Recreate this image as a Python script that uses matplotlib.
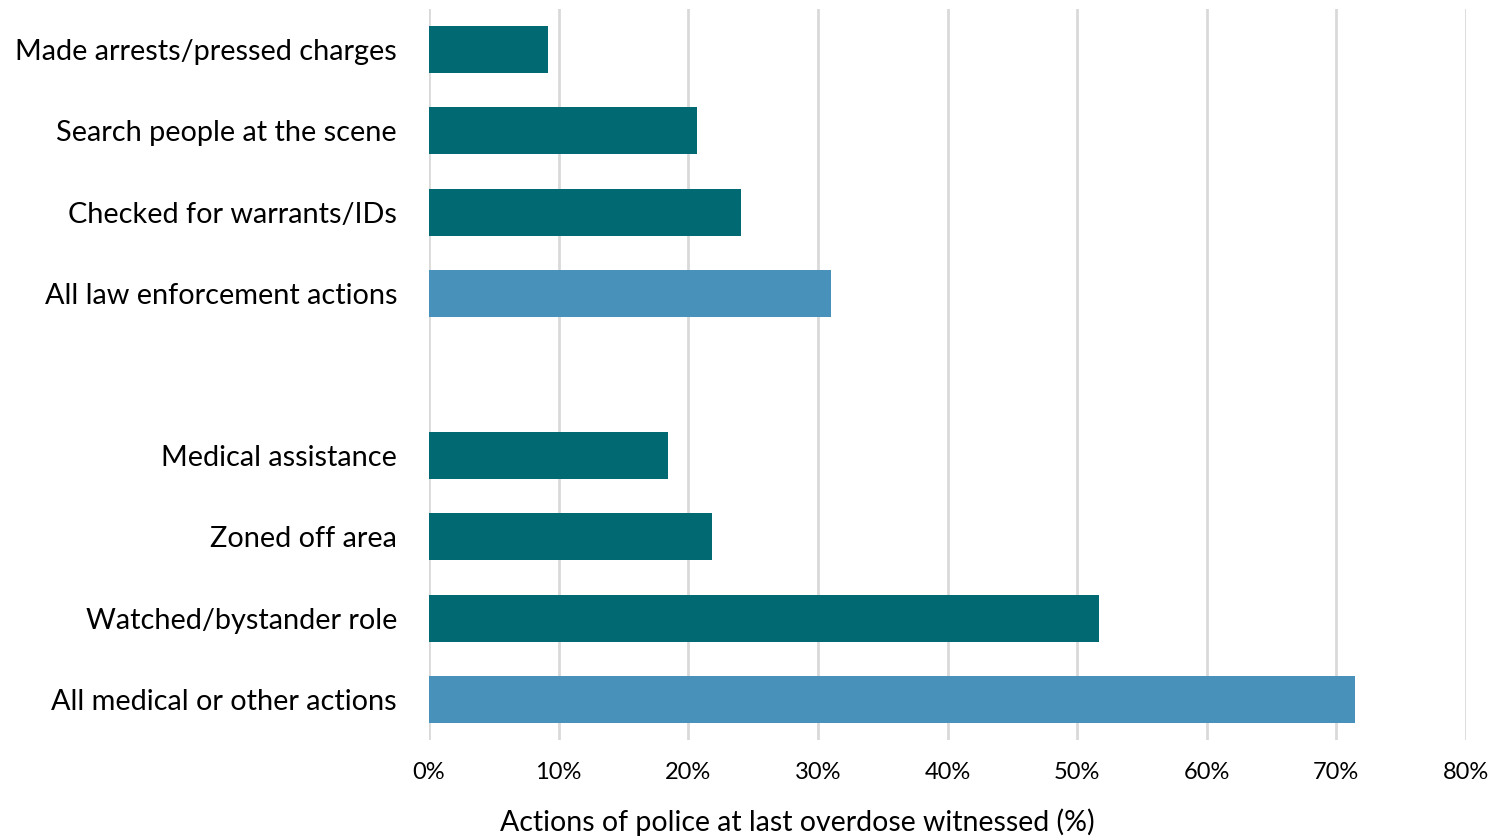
import matplotlib
matplotlib.use("Agg")
import matplotlib.pyplot as plt
from matplotlib.ticker import FixedLocator

# Police actions at the last overdose witnessed (percent of respondents)
categories = [
    "Made arrests/pressed charges",
    "Search people at the scene",
    "Checked for warrants/IDs",
    "All law enforcement actions",
    "",
    "Medical assistance",
    "Zoned off area",
    "Watched/bystander role",
    "All medical or other actions",
]
values = [9.2, 20.7, 24.1, 31.0, None, 18.4, 21.8, 51.7, 71.4]
is_total = [False, False, False, True, False, False, False, False, True]
tick_values = [0, 10, 20, 30, 40, 50, 60, 70, 80]
tick_labels = [f"{v}%" for v in tick_values]

detail_color = "#006972"
total_color = "#4891BA"
grid_color = "#d9d9d9"

plt.rcParams["font.family"] = ["Lato", "DejaVu Sans"]

W, H = 1493, 839
fig = plt.figure(figsize=(W / 100, H / 100), dpi=100)
ax = fig.add_axes([429 / W, 1 - 740 / H, (1466 - 429) / W, (740 - 9) / H])

ypos = list(range(len(categories)))
for y, v, tot in zip(ypos, values, is_total):
    if v is None:
        continue
    ax.barh(y, v, height=0.58, color=total_color if tot else detail_color, zorder=3)

ax.set_xlim(0, 80)
ax.set_ylim(len(categories) - 0.5, -0.5)
ax.xaxis.set_major_locator(FixedLocator(tick_values))
ax.set_xticklabels(tick_labels, fontsize=17)
ax.set_yticks(ypos)
ax.set_yticklabels(categories, fontsize=20.8)
ax.tick_params(axis="both", length=0, colors="black")
ax.tick_params(axis="x", pad=16)
ax.tick_params(axis="y", pad=23)

ax.grid(axis="x", color=grid_color, linewidth=2, zorder=0)
for s in ax.spines.values():
    s.set_visible(False)

fig.text(797 / W, 1 - 822 / H, "Actions of police at last overdose witnessed (%)",
         fontsize=20.5, ha="center", va="center")

fig.savefig("out.png", dpi=100, facecolor="white")
